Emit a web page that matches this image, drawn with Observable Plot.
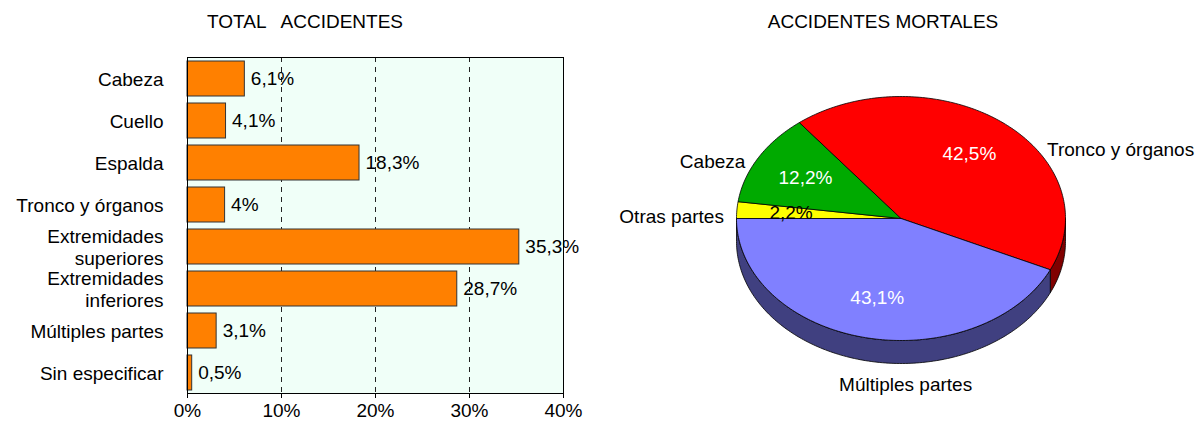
<!DOCTYPE html>
<html><head><meta charset="utf-8">
<script src="https://cdn.jsdelivr.net/npm/d3@7"></script>
<script src="https://cdn.jsdelivr.net/npm/@observablehq/plot@0.6"></script>
<style>
body{margin:0;background:#fff;}
#wrap{position:relative;width:1201px;height:421px;overflow:hidden;font-family:"Liberation Sans",Arial,sans-serif;}
.title{position:absolute;top:12px;font-size:19px;line-height:19px;white-space:pre;transform:translateX(-50%);color:#000;}
.panel{position:absolute;top:0;}
</style></head><body>
<div id="wrap">
  <div class="title" style="left:305px">TOTAL   ACCIDENTES</div>
  <div class="title" style="left:883px">ACCIDENTES MORTALES</div>
  <div class="panel" id="bars" style="left:0"></div>
  <div class="panel" id="pie" style="left:600px"></div>
</div>
<script>
// ---- data ----
const barCategories = ["Cabeza", "Cuello", "Espalda", "Tronco y órganos", "Extremidades superiores", "Extremidades inferiores", "Múltiples partes", "Sin especificar"];
const barValues = [6.1, 4.1, 18.3, 4, 35.3, 28.7, 3.1, 0.5];
const xTicks = [0, 10, 20, 30, 40];

const pieCategories = ["Otras partes", "Cabeza", "Tronco y órganos", "Múltiples partes"];
const pieValues = [2.2, 12.2, 42.5, 43.1];

// ---- styles ----
const font = '"Liberation Sans", Arial, sans-serif';
const fmt = v => String(v).replace(".", ",") + "%";
const wrapLabel = s => s.startsWith("Extremidades ") ? s.replace(" ", "\n") : s;

// ---- bar chart ----
const barData = barCategories.map((c, i) => ({category: c, value: barValues[i]}));
const bars = Plot.plot({
  width: 600, height: 421,
  marginLeft: 187, marginRight: 37, marginTop: 57, marginBottom: 28,
  style: {fontFamily: font, fontSize: "19px", color: "#000", background: "transparent", overflow: "visible"},
  x: {domain: [0, 40]},
  y: {domain: barCategories, paddingInner: 7 / 42, paddingOuter: 3.5 / 42},
  marks: [
    Plot.frame({fill: "#F0FFF8", stroke: null}),
    Plot.ruleX(xTicks.filter(t => t > 0 && t < 40), {stroke: "#222", strokeDasharray: "5,5"}),
    Plot.barX(barData, {x: "value", y: "category", fill: "#FF8000", stroke: "#333", strokeWidth: 1}),
    Plot.frame({stroke: "#000"}),
    Plot.text(barData, {x: "value", y: "category", text: d => fmt(d.value), textAnchor: "start", dx: 6, fontSize: 19, fill: "#000"}),
    Plot.axisX({ticks: xTicks, tickFormat: d => d + "%", tickSize: 5, tickPadding: 5, fontSize: 19, label: null}),
    Plot.axisY({tickSize: 0, tickPadding: 24, tickFormat: wrapLabel, fontSize: 19, lineHeight: 1.18, label: null})
  ]
});
document.getElementById("bars").appendChild(bars);

// ---- pie chart (3D-looking ellipse) ----
const tilt = 122 / 164.5, depth = 23 / 164.5;
const topColors = {"Otras partes": "#FFFF00", "Cabeza": "#00AA00", "Tronco y órganos": "#FF0000", "Múltiples partes": "#8080FF"};
const sideColors = {"Otras partes": "#808000", "Cabeza": "#005500", "Tronco y órganos": "#800000", "Múltiples partes": "#404080"};
const valueColors = {"Otras partes": "#000", "Cabeza": "#fff", "Tronco y órganos": "#fff", "Múltiples partes": "#fff"};
const labelLayout = {
  "Tronco y órganos": {anchor: "start", dx: 44, dy: 27},
  "Cabeza": {anchor: "end", dx: -13, dy: 4},
  "Otras partes": {anchor: "end", dx: -13, dy: 6.5},
  "Múltiples partes": {anchor: "middle", dx: 40, dy: 24}
};

const arcs = d3.pie().sort(null).value(d => d).startAngle(1.5 * Math.PI).endAngle(3.5 * Math.PI)(pieValues);
const P = (t, f = 1, drop = 0) => ({x: f * Math.cos(t), y: -f * Math.sin(t) * tilt - drop});
const arcPts = (t0, t1, f, drop) => {
  const n = Math.max(2, Math.ceil((t1 - t0) / (Math.PI / 180)));
  return d3.range(n + 1).map(k => P(t0 + (t1 - t0) * k / n, f, drop));
};
const slices = arcs.map((a, i) => ({cat: pieCategories[i], value: pieValues[i], t0: a.startAngle - Math.PI / 2, t1: a.endAngle - Math.PI / 2}));

const sideMarks = [], topMarks = [], labelMarks = [];
for (const s of slices) {
  for (const [w0, w1] of [[0, Math.PI], [2 * Math.PI, 3 * Math.PI]]) {
    const a = Math.max(s.t0, w0), b = Math.min(s.t1, w1);
    if (b > a) {
      const top = arcPts(a, b, 1, 0);
      const pts = [...top, ...arcPts(a, b, 1, depth).reverse(), top[0]];
      sideMarks.push(Plot.line(pts, {x: "x", y: "y", fill: sideColors[s.cat], stroke: "#000", strokeWidth: 0.8}));
    }
  }
  const c = {x: 0, y: 0};
  topMarks.push(Plot.line([c, ...arcPts(s.t0, s.t1, 1, 0), c], {x: "x", y: "y", fill: topColors[s.cat], stroke: "#000", strokeWidth: 0.8}));
  const mid = (s.t0 + s.t1) / 2;
  const vp = P(mid, 0.67);
  labelMarks.push(Plot.text([s], {x: () => vp.x, y: () => vp.y, text: d => fmt(d.value), fill: valueColors[s.cat], fontSize: 19}));
  const lower = Math.sin(mid) > 0;
  const ep = P(mid, 1, lower ? depth : 0);
  const L = labelLayout[s.cat];
  labelMarks.push(Plot.text([s], {x: () => ep.x, y: () => ep.y, text: "cat", textAnchor: L.anchor, dx: L.dx, dy: L.dy, fill: "#000", fontSize: 19}));
}

const pie = Plot.plot({
  width: 601, height: 421,
  marginLeft: 136, marginRight: 136, marginTop: 20.6, marginBottom: 5.6,
  style: {fontFamily: font, fontSize: "19px", color: "#000", background: "transparent", overflow: "visible"},
  x: {domain: [-1, 1], axis: null},
  y: {domain: [-1.2, 1.2], axis: null},
  marks: [...sideMarks, ...topMarks, ...labelMarks]
});
document.getElementById("pie").appendChild(pie);
</script>
</body></html>
